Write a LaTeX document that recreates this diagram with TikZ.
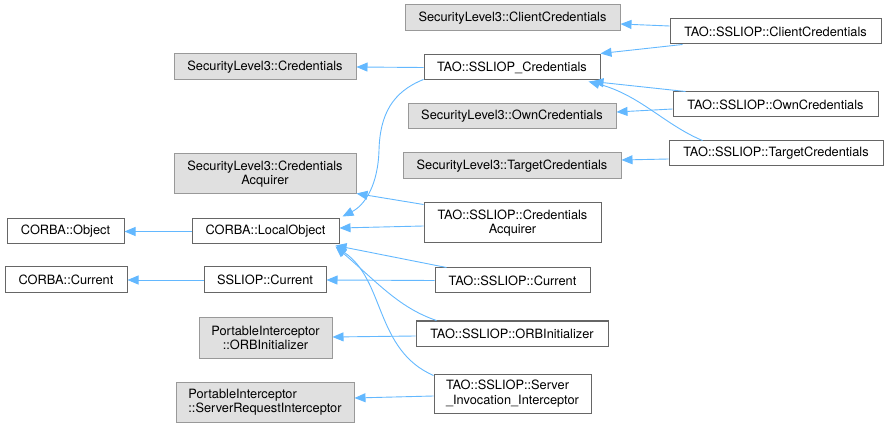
\documentclass[tikz,border=0pt]{standalone}
\usepackage{fontspec}
\setmainfont{TeX Gyre Heros}
\usetikzlibrary{arrows.meta,calc}
\definecolor{edgeblue}{HTML}{63B8FF}
\definecolor{grayfill}{HTML}{E0E0E0}
\definecolor{graydraw}{HTML}{999999}
\definecolor{whitedraw}{HTML}{666666}
\begin{document}
\begin{tikzpicture}[x=1pt,y=-1pt,
  base/.style={rectangle,inner sep=0pt,font=\fontsize{12.8}{14.5}\selectfont,line width=1pt,text=black},
  graybox/.style={base,fill=grayfill,draw=graydraw},
  whitebox/.style={base,fill=white,draw=whitedraw},
  inh/.style={draw=edgeblue,line width=0.9pt,-{Triangle[length=11pt,width=9pt,fill=edgeblue]}},
]
\useasboundingbox (0,0) rectangle (888,427);
% nodes
\node[graybox,minimum width=215pt,minimum height=26pt] (cc3) at (512.5,18) {SecurityLevel3::ClientCredentials};
\node[graybox,minimum width=182pt,minimum height=26pt] (cred3) at (265,67) {SecurityLevel3::Credentials};
\node[whitebox,minimum width=176pt,minimum height=25pt] (sslcred) at (512,67.5) {TAO::SSLIOP\_Credentials};
\node[whitebox,minimum width=211pt,minimum height=25pt] (tcc) at (775.5,31.5) {TAO::SSLIOP::ClientCredentials};
\node[whitebox,minimum width=205pt,minimum height=25pt] (toc) at (775.5,104.5) {TAO::SSLIOP::OwnCredentials};
\node[graybox,minimum width=208pt,minimum height=25pt] (oc3) at (512,116.5) {SecurityLevel3::OwnCredentials};
\node[whitebox,minimum width=214pt,minimum height=25pt] (ttc) at (776,153.5) {TAO::SSLIOP::TargetCredentials};
\node[graybox,minimum width=218pt,minimum height=26pt] (tc3) at (512,166) {SecurityLevel3::TargetCredentials};
\node[graybox,minimum width=182pt,minimum height=40pt,align=center] (ca3) at (265,174) {SecurityLevel3::Credentials\\Acquirer};
\node[whitebox,minimum width=117pt,minimum height=25pt] (obj) at (65.5,231.5) {CORBA::Object};
\node[whitebox,minimum width=147pt,minimum height=25pt] (lo) at (265.5,231.5) {CORBA::LocalObject};
\node[whitebox,minimum width=177pt,minimum height=40pt,align=center] (tca) at (512.5,223) {TAO::SSLIOP::Credentials\\Acquirer};
\node[whitebox,minimum width=122pt,minimum height=26pt] (cur) at (66,280) {CORBA::Current};
\node[whitebox,minimum width=122pt,minimum height=26pt] (scur) at (265,280) {SSLIOP::Current};
\node[whitebox,minimum width=155pt,minimum height=25pt] (tcur) at (512.5,280.5) {TAO::SSLIOP::Current};
\node[graybox,minimum width=133pt,minimum height=40pt,align=center] (pio) at (265.5,338) {PortableInterceptor\\::ORBInitializer};
\node[whitebox,minimum width=192pt,minimum height=25pt] (torb) at (512,333.5) {TAO::SSLIOP::ORBInitializer};
\node[graybox,minimum width=178pt,minimum height=40pt,align=left] (psri) at (265,402) {PortableInterceptor\\::ServerRequestInterceptor};
\node[whitebox,minimum width=157pt,minimum height=39pt,align=left] (tsii) at (512.5,393.5) {TAO::SSLIOP::Server\\\_Invocation\_Interceptor};
% edges
\draw[inh] (lo.west) -- (obj.east);
\draw[inh] (scur.west) -- (cur.east);
\draw[inh] (sslcred.west) -- (cred3.east);
\draw[inh] ($(sslcred.south west)+(0,-1)$) .. controls (392,92) and (380,115) .. (379,150) .. controls (378,185) and (365,205) .. ($(lo.north east)+(3,-2)$);
\draw[inh] ($(tca.north west)+(0,2)$) -- ($(ca3.south east)+(0,-1)$);
\draw[inh] ($(tca.west)+(0,3)$) -- ($(lo.east)+(0,-3.5)$);
\draw[inh] ($(tcur.north west)+(12,0)$) -- ($(lo.south east)+(-4,1)$);
\draw[inh] (tcur.west) -- (scur.east);
\draw[inh] ($(torb.north west)+(21,0)$) .. controls (400,308) and (380,285) .. ($(lo.south east)+(-4,2)$);
\draw[inh] ($(torb.west)+(0,2.5)$) -- ($(pio.east)+(0,-1)$);
\draw[inh] ($(tsii.north west)+(0,2)$) .. controls (375,350) and (385,280) .. ($(lo.south east)+(-4,2)$);
\draw[inh] ($(tsii.west)+(0,2.5)$) -- ($(psri.east)+(0,-4)$);
\draw[inh] ($(tcc.west)+(0,-5.5)$) -- ($(cc3.east)+(0,6)$);
\draw[inh] ($(tcc.south west)+(13,0)$) -- ($(sslcred.north east)+(0,-1)$);
\draw[inh] ($(toc.north west)+(13,0)$) -- ($(sslcred.south east)+(-8,1)$);
\draw[inh] ($(toc.west)+(0,4.5)$) -- ($(oc3.east)+(0,-4.5)$);
\draw[inh] ($(ttc.north west)+(34,0)$) .. controls (665,125) and (640,95) .. ($(sslcred.south east)+(-12,1)$);
\draw[inh] ($(ttc.west)+(0,5.5)$) -- ($(tc3.east)+(0,-6)$);
\end{tikzpicture}
\end{document}
